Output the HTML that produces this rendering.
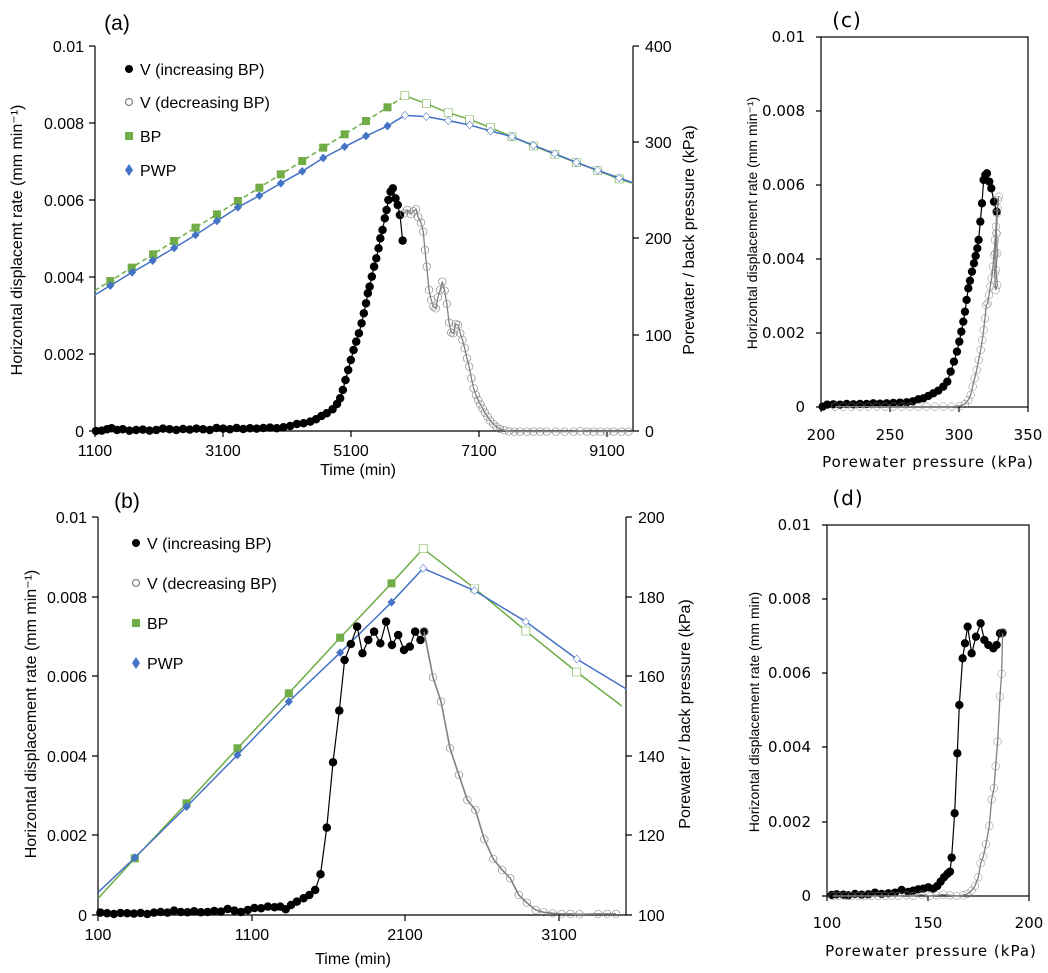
<!DOCTYPE html>
<html><head><meta charset="utf-8"><style>
html,body{margin:0;padding:0;background:#fff;}
svg{display:block;font-family:"Liberation Sans",sans-serif;}
</style></head><body>
<svg width="1048" height="973" viewBox="0 0 1048 973" xmlns="http://www.w3.org/2000/svg">
<defs>
<marker id="kA" markerUnits="userSpaceOnUse" markerWidth="1" markerHeight="1" overflow="visible"><ellipse cx="0" cy="0" rx="9.5" ry="12.7" fill="#000"/></marker>
<marker id="gA" markerUnits="userSpaceOnUse" markerWidth="1" markerHeight="1" overflow="visible"><ellipse cx="0" cy="0" rx="8.5" ry="11.4" fill="none" stroke="#808080" stroke-width="1.5" vector-effect="non-scaling-stroke"/></marker>
<marker id="sqF" markerUnits="userSpaceOnUse" markerWidth="1" markerHeight="1" overflow="visible"><rect x="-9" y="-12" width="18" height="24" fill="#70ad47"/></marker>
<marker id="sqO" markerUnits="userSpaceOnUse" markerWidth="1" markerHeight="1" overflow="visible"><rect x="-9" y="-12" width="18" height="24" fill="#fff" stroke="#70ad47" stroke-width="1.4" vector-effect="non-scaling-stroke"/></marker>
<marker id="dF" markerUnits="userSpaceOnUse" markerWidth="1" markerHeight="1" overflow="visible"><polygon points="0,-13 9,0 0,13 -9,0" fill="#4472c4"/></marker>
<marker id="dO" markerUnits="userSpaceOnUse" markerWidth="1" markerHeight="1" overflow="visible"><polygon points="0,-12 8,0 0,12 -8,0" fill="#fff" stroke="#4472c4" stroke-width="1.3" vector-effect="non-scaling-stroke"/></marker>
<marker id="kC" markerUnits="userSpaceOnUse" markerWidth="1" markerHeight="1" overflow="visible"><circle cx="0" cy="0" r="12.5" fill="#000"/></marker>
<marker id="gC" markerUnits="userSpaceOnUse" markerWidth="1" markerHeight="1" overflow="visible"><circle cx="0" cy="0" r="11.5" fill="none" stroke="#808080" stroke-width="1.5" vector-effect="non-scaling-stroke"/></marker>
</defs>

<!-- ================= PANEL (a) ================= -->
<g stroke="#000" stroke-width="1.2" fill="none">
<polyline points="95,46 95,431 633,431 633,46"/>
<path d="M89,46H95M89,123H95M89,200H95M89,277H95M89,354H95M89,431H95M633,46H639M633,142H639M633,238H639M633,335H639M633,431H639M95,431V437M223,431V437M351,431V437M479,431V437M607,431V437"/>
</g>
<g font-size="16" fill="#000">
<text x="84" y="52" text-anchor="end">0.01</text>
<text x="84" y="129" text-anchor="end">0.008</text>
<text x="84" y="206" text-anchor="end">0.006</text>
<text x="84" y="283" text-anchor="end">0.004</text>
<text x="84" y="360" text-anchor="end">0.002</text>
<text x="84" y="437" text-anchor="end">0</text>
<text x="645" y="52">400</text>
<text x="645" y="148">300</text>
<text x="645" y="244">200</text>
<text x="645" y="341">100</text>
<text x="645" y="437">0</text>
<text x="95" y="456" text-anchor="middle">1100</text>
<text x="223" y="456" text-anchor="middle">3100</text>
<text x="351" y="456" text-anchor="middle">5100</text>
<text x="479" y="456" text-anchor="middle">7100</text>
<text x="607" y="456" text-anchor="middle">9100</text>
<text x="358" y="475" text-anchor="middle" font-size="16">Time (min)</text>
<text x="117" y="30" text-anchor="middle" font-size="21">(a)</text>
<text transform="translate(22,240) rotate(-90)" text-anchor="middle" font-size="16">Horizontal displacemt rate (mm  min⁻¹)</text>
<text transform="translate(694,240) rotate(-90)" text-anchor="middle" font-size="16">Porewater / back pressure (kPa)</text>
<text x="140" y="75" font-size="16">V (increasing BP)</text>
<text x="140" y="108" font-size="16">V (decreasing BP)</text>
<text x="140" y="142" font-size="16">BP</text>
<text x="140" y="176" font-size="16">PWP</text>
</g>
<circle cx="129" cy="69" r="4" fill="#000"/>
<circle cx="129" cy="102" r="3.5" fill="none" stroke="#808080" stroke-width="1.2"/>
<rect x="125" y="132" width="8" height="8" fill="#70ad47"/>
<polygon points="129,164 133,170 129,176 125,170" fill="#4472c4"/>

<g transform="matrix(0.4464,0,0,0.3333,0,0)" fill="none">
<polyline vector-effect="non-scaling-stroke" stroke="#70ad47" stroke-width="1.5" stroke-dasharray="5,3" points="212,872 247,843 295,803 343,763 390,723 438,683 486,643 533,603 581,563 629,523 677,483 724,443 772,403 820,363 868,322 907,287" marker-mid="url(#sqF)"/>
<polyline vector-effect="non-scaling-stroke" stroke="#70ad47" stroke-width="1.5" points="907,287 955,311 1004,338 1052,358 1099,383 1147,410 1195,438 1243,463 1291,488 1339,512 1387,537 1418,550" marker-start="url(#sqO)" marker-mid="url(#sqO)"/>
<polyline vector-effect="non-scaling-stroke" stroke="#4472c4" stroke-width="1.5" points="212,885 247,857 296,817 342,782 390,744 438,705 486,663 533,622 581,587 629,550 677,514 724,474 772,440 820,408 868,378 907,346" marker-mid="url(#dF)"/>
<polyline vector-effect="non-scaling-stroke" stroke="#4472c4" stroke-width="1.5" points="907,346 955,350 1004,362 1052,375 1099,393 1147,410 1195,436 1243,461 1291,487 1339,511 1387,534 1418,548" marker-start="url(#dO)" marker-mid="url(#dO)"/>
<polyline vector-effect="non-scaling-stroke" stroke="#000" stroke-width="1.2" points="215,1293 228,1292 240,1288 250,1285 262,1290 275,1288 290,1292 305,1290 320,1289 335,1292 350,1290 365,1286 380,1288 395,1290 410,1287 425,1289 440,1286 455,1288 470,1290 485,1284 500,1286 515,1288 530,1284 545,1287 560,1285 575,1286 590,1284 605,1283 620,1285 635,1282 650,1278 665,1272 680,1270 695,1265 708,1258 720,1248 732,1240 745,1228 755,1212 762,1195 768,1170 774,1140 780,1110 786,1080 792,1050 798,1025 804,1000 810,970 815,940 820,910 824,880 828,860 833,830 838,800 843,775 848,745 852,715 857,690 862,655 866,630 870,600 875,575 880,565 886,595 891,615 896,645 902,722" marker-start="url(#kA)" marker-mid="url(#kA)" marker-end="url(#kA)"/>
<polyline vector-effect="non-scaling-stroke" stroke="#808080" stroke-width="1.3" points="905,640 912,630 920,642 926,634 932,628 937,652 943,668 948,695 952,750 956,800 961,870 966,900 971,920 976,925 981,892 986,870 991,845 996,872 1001,912 1006,968 1011,998 1016,1000 1021,972 1026,975 1031,1000 1036,1020 1041,1045 1046,1075 1051,1100 1056,1135 1061,1165 1066,1185 1071,1200 1076,1213 1081,1225 1086,1238 1092,1250 1098,1262 1105,1272 1112,1280 1120,1287 1130,1291 1140,1294 1152,1295 1165,1295 1180,1295 1195,1295 1210,1295 1225,1295 1245,1295 1265,1295 1285,1295 1300,1294 1315,1295 1330,1295 1345,1295 1360,1295 1375,1295 1392,1295 1408,1295" marker-start="url(#gA)" marker-mid="url(#gA)" marker-end="url(#gA)"/>
</g>

<!-- ================= PANEL (b) ================= -->
<g stroke="#000" stroke-width="1.2" fill="none">
<polyline points="98,517 98,915 626,915 626,517"/>
<path d="M92,517H98M92,597H98M92,676H98M92,756H98M92,835H98M92,915H98M626,517H632M626,597H632M626,676H632M626,756H632M626,835H632M626,915H632M98,915V921M252,915V921M405,915V921M559,915V921"/>
</g>
<g font-size="16" fill="#000">
<text x="87" y="523" text-anchor="end">0.01</text>
<text x="87" y="603" text-anchor="end">0.008</text>
<text x="87" y="682" text-anchor="end">0.006</text>
<text x="87" y="762" text-anchor="end">0.004</text>
<text x="87" y="841" text-anchor="end">0.002</text>
<text x="87" y="921" text-anchor="end">0</text>
<text x="638" y="523">200</text>
<text x="638" y="603">180</text>
<text x="638" y="682">160</text>
<text x="638" y="762">140</text>
<text x="638" y="841">120</text>
<text x="638" y="921">100</text>
<text x="98" y="940" text-anchor="middle">100</text>
<text x="252" y="940" text-anchor="middle">1100</text>
<text x="405" y="940" text-anchor="middle">2100</text>
<text x="559" y="940" text-anchor="middle">3100</text>
<text x="353" y="964" text-anchor="middle" font-size="16">Time (min)</text>
<text x="127" y="508" text-anchor="middle" font-size="21">(b)</text>
<text transform="translate(36,714) rotate(-90)" text-anchor="middle" font-size="16">Horizontal displacement rate (mm  min⁻¹)</text>
<text transform="translate(690,714) rotate(-90)" text-anchor="middle" font-size="16">Porewater / back pressure (kPa)</text>
<text x="147" y="549" font-size="16">V (increasing BP)</text>
<text x="147" y="589" font-size="16">V (decreasing BP)</text>
<text x="147" y="629" font-size="16">BP</text>
<text x="147" y="669" font-size="16">PWP</text>
</g>
<circle cx="136" cy="543" r="4" fill="#000"/>
<circle cx="136" cy="583" r="3.5" fill="none" stroke="#808080" stroke-width="1.2"/>
<rect x="132" y="619" width="8" height="8" fill="#70ad47"/>
<polygon points="136,657 140,663 136,669 132,663" fill="#4472c4"/>

<g transform="translate(0,480) matrix(0.4464,0,0,0.3333,0,0)" fill="none">
<polyline vector-effect="non-scaling-stroke" stroke="#70ad47" stroke-width="1.5" points="220,1255 302,1135 418,970 532,805 647,640 762,473 877,310 948,206" marker-mid="url(#sqF)"/>
<polyline vector-effect="non-scaling-stroke" stroke="#70ad47" stroke-width="1.5" points="948,206 1063,325 1178,453 1292,576 1393,678" marker-start="url(#sqO)" marker-mid="url(#sqO)"/>
<polyline vector-effect="non-scaling-stroke" stroke="#4472c4" stroke-width="1.5" points="220,1237 302,1133 418,980 532,825 647,665 762,518 877,367 948,265" marker-mid="url(#dF)"/>
<polyline vector-effect="non-scaling-stroke" stroke="#4472c4" stroke-width="1.5" points="948,265 1063,332 1178,425 1292,537 1403,627" marker-start="url(#dO)" marker-mid="url(#dO)"/>
<polyline vector-effect="non-scaling-stroke" stroke="#000" stroke-width="1.2" points="225,1298 240,1300 255,1302 270,1299 285,1300 300,1301 315,1299 330,1302 345,1298 360,1296 375,1298 390,1292 405,1296 420,1297 435,1294 450,1297 465,1296 480,1293 495,1295 510,1287 525,1292 540,1296 555,1290 570,1284 585,1285 600,1280 615,1282 628,1280 640,1288 652,1275 665,1265 680,1255 693,1245 706,1230 718,1183 732,1043 746,847 760,692 772,540 786,492 800,440 812,520 825,480 838,455 852,490 865,425 878,495 892,465 905,510 918,500 930,455 942,480 950,455" marker-start="url(#kA)" marker-mid="url(#kA)" marker-end="url(#kA)"/>
<polyline vector-effect="non-scaling-stroke" stroke="#808080" stroke-width="1.6" points="950,455 970,592 988,665 1008,805 1028,885 1047,960 1065,990 1085,1078 1105,1137 1125,1170 1143,1195 1162,1245 1180,1268 1200,1290 1218,1297 1238,1300 1258,1302 1278,1302 1298,1303 1340,1302 1360,1302 1380,1302" marker-start="url(#gA)" marker-mid="url(#gA)" marker-end="url(#gA)"/>
</g>

<!-- ================= PANEL (c) ================= -->
<g stroke="#000" stroke-width="1.2" fill="none">
<rect x="821" y="37" width="207" height="370"/>
<path d="M816,37H821M816,111H821M816,185H821M816,259H821M816,333H821M816,407H821M821,407V412M890,407V412M959,407V412M1028,407V412"/>
</g>
<g font-size="15" fill="#000" font-family="DejaVu Sans, sans-serif">
<text x="805" y="42" text-anchor="end">0.01</text>
<text x="805" y="116" text-anchor="end">0.008</text>
<text x="805" y="190" text-anchor="end">0.006</text>
<text x="805" y="264" text-anchor="end">0.004</text>
<text x="805" y="338" text-anchor="end">0.002</text>
<text x="805" y="412" text-anchor="end">0</text>
<text x="821" y="440" text-anchor="middle">200</text>
<text x="890" y="440" text-anchor="middle">250</text>
<text x="959" y="440" text-anchor="middle">300</text>
<text x="1028" y="440" text-anchor="middle">350</text>
<text x="928" y="467" text-anchor="middle" font-size="15" letter-spacing="1">Porewater pressure (kPa)</text>
<text x="847" y="27" text-anchor="middle" font-size="20" letter-spacing="1">(c)</text>
</g>
<text transform="translate(757,223) rotate(-90)" text-anchor="middle" font-size="14" font-family="Liberation Sans, sans-serif">Horizontal displacement rate (mm  min⁻¹)</text>
<g transform="translate(730,0) scale(0.3333)" fill="none">
<polyline vector-effect="non-scaling-stroke" stroke="#000" stroke-width="1.2" points="278,1220 292,1214 310,1213 330,1214 350,1212 370,1213 390,1212 410,1212 430,1210 450,1211 470,1210 490,1209 510,1208 530,1207 548,1204 565,1198 580,1195 595,1188 610,1180 625,1172 640,1160 652,1145 662,1115 672,1085 681,1055 688,1025 694,995 700,965 705,935 710,900 715,865 720,842 726,815 732,790 737,768 742,745 746,720 751,665 756,610 761,540 766,525 771,520 778,545 784,565 792,605 800,635" marker-start="url(#kC)" marker-mid="url(#kC)" marker-end="url(#kC)"/>
<polyline vector-effect="non-scaling-stroke" stroke="#808080" stroke-width="1.3" points="315,1220 340,1220 365,1220 390,1220 415,1220 440,1220 465,1220 490,1220 515,1220 540,1220 565,1220 590,1220 615,1220 640,1220 665,1220 690,1218 705,1212 715,1200 722,1185 728,1160 734,1135 740,1110 746,1080 752,1050 757,1020 761,990 765,955 769,915 773,910 777,885 781,860 785,835 789,800 792,765 795,720 798,680 801,640 804,600 806,590 803,625 799,700 796,760 794,820 797,870 802,855 798,810 802,760 800,700" marker-start="url(#gC)" marker-mid="url(#gC)" marker-end="url(#gC)"/>
</g>

<!-- ================= PANEL (d) ================= -->
<g stroke="#000" stroke-width="1.2" fill="none">
<rect x="827" y="525" width="202" height="371"/>
<path d="M822,525H827M822,599H827M822,673H827M822,747H827M822,822H827M822,896H827M827,896V901M928,896V901M1029,896V901"/>
</g>
<g font-size="15" fill="#000" font-family="DejaVu Sans, sans-serif">
<text x="811" y="530" text-anchor="end">0.01</text>
<text x="811" y="604" text-anchor="end">0.008</text>
<text x="811" y="678" text-anchor="end">0.006</text>
<text x="811" y="752" text-anchor="end">0.004</text>
<text x="811" y="827" text-anchor="end">0.002</text>
<text x="811" y="901" text-anchor="end">0</text>
<text x="827" y="928" text-anchor="middle">100</text>
<text x="928" y="928" text-anchor="middle">150</text>
<text x="1029" y="928" text-anchor="middle">200</text>
<text x="931" y="956" text-anchor="middle" font-size="15" letter-spacing="1">Porewater pressure (kPa)</text>
<text x="848" y="505" text-anchor="middle" font-size="20" letter-spacing="1">(d)</text>
</g>
<text transform="translate(759,712) rotate(-90)" text-anchor="middle" font-size="14" font-family="Liberation Sans, sans-serif">Horizontal displacement rate (mm min)</text>
<g transform="translate(730,470) scale(0.3333)" fill="none">
<polyline vector-effect="non-scaling-stroke" stroke="#000" stroke-width="1.2" points="305,1275 320,1273 340,1274 355,1276 375,1272 395,1274 415,1273 435,1268 455,1272 475,1270 495,1268 515,1260 535,1266 550,1262 565,1258 580,1256 595,1252 610,1256 622,1248 632,1235 642,1222 652,1212 660,1205 665,1163 674,1030 682,850 688,705 698,565 705,520 713,470 725,550 738,500 752,460 763,510 775,525 790,535 800,525 810,490 818,488" marker-start="url(#kC)" marker-mid="url(#kC)" marker-end="url(#kC)"/>
<polyline vector-effect="non-scaling-stroke" stroke="#808080" stroke-width="1.3" points="308,1278 325,1278 345,1278 365,1278 385,1278 405,1278 425,1278 445,1278 465,1278 485,1278 505,1278 530,1276 550,1278 575,1274 600,1278 620,1276 640,1274 660,1276 680,1278 700,1276 712,1272 725,1262 735,1248 745,1222 752,1180 760,1160 768,1123 778,1068 785,988 792,955 797,889 803,815 810,680 815,612 818,490" marker-start="url(#gC)" marker-mid="url(#gC)" marker-end="url(#gC)"/>
</g>
</svg>
</body></html>
